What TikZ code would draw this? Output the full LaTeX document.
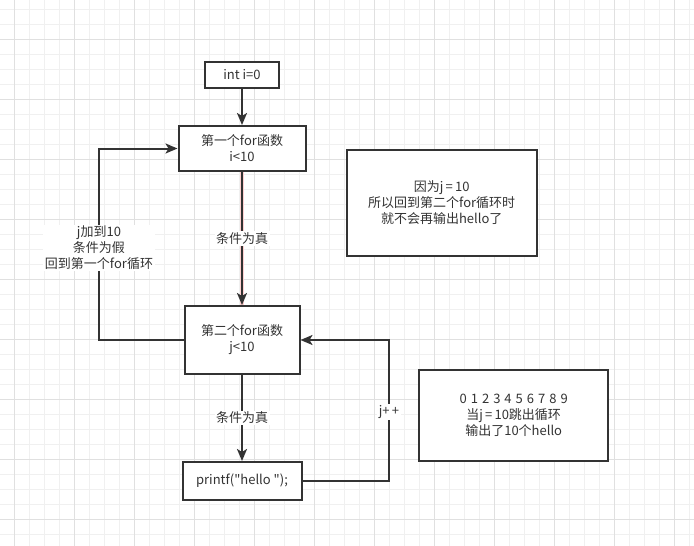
\documentclass[tikz,border=0pt]{standalone}
\usepackage{fontspec}
\newfontfamily\cjk{Noto Sans CJK SC}
\usepackage{tikz}
\usetikzlibrary{arrows.meta,positioning}
\definecolor{ink}{HTML}{333333}
\definecolor{gridminor}{HTML}{F0F0F0}
\definecolor{gridmajor}{HTML}{E0E0E0}

\tikzset{
  blk/.style={draw=ink, line width=2pt, fill=white, inner sep=0pt, align=center, text=ink},
  tag/.style={fill=white, inner sep=1.5pt, align=center, text=ink},
  flow/.style={draw=ink, line width=2pt, -{Stealth[length=12pt,width=10pt,inset=3pt]}},
}

\begin{document}
\begin{tikzpicture}[x=1pt,y=-1pt,every node/.style={font=\cjk\fontsize{13}{16}\selectfont}]
\useasboundingbox (0,0) rectangle (694,546);
\fill[white] (0,0) rectangle (694,546);

% grid
\foreach \i in {0,...,46} \draw[gridminor, line width=0.8pt] (-0.7+15*\i,0) -- (-0.7+15*\i,546);
\foreach \i in {0,...,36} \draw[gridminor, line width=0.8pt] (0,9.3+15*\i) -- (694,9.3+15*\i);
\foreach \i in {0,...,11} \draw[gridmajor, line width=0.8pt] (14.3+60*\i,0) -- (14.3+60*\i,546);
\foreach \i in {0,...,8} \draw[gridmajor, line width=0.8pt] (0,39.3+60*\i) -- (694,39.3+60*\i);

\node[blk, minimum width=74, minimum height=26] (init) at (242,75) {int i=0};
\node[blk, minimum width=127, minimum height=45] (first) at (242,148.5) {第一个for函数\\i<10};
\node[blk, minimum width=115, minimum height=68] (second) at (242,340) {第二个for函数\\j<10};
\node[blk, minimum width=119, minimum height=38] (printbox) at (242,481) {printf("hello ");};

\node[blk, minimum width=190, minimum height=106] (note1) at (441.7,202.5) {因为j\,=\,10\\所以回到第二个for循环时\\就不会再输出hello了};
\node[blk, minimum width=189, minimum height=91] (note2) at (513.7,415.5) {0\hspace{4pt}1\hspace{4pt}2\hspace{4pt}3\hspace{4pt}4\hspace{4pt}5\hspace{4pt}6\hspace{4pt}7\hspace{4pt}8\hspace{4pt}9\\当j\,=\,10跳出循环\\输出了10个hello};

\coordinate (falsept) at (99,248);
\coordinate (incpt) at (389,412);

\draw[flow] (init) -- (first);
\draw[red!18, line width=3.6pt] (first) -- (second);
\draw[flow] (first) -- node[tag] {条件为真} (second);
\draw[flow] (second) -- node[tag] {条件为真} (printbox);
\draw[flow] (second.west) -| (falsept) |- (first.west);
\node[tag] at (falsept) {j加到10\\条件为假\\回到第一个for循环};
\draw[flow] (printbox.east) -| (incpt) |- (second.east);
\node[tag] at (incpt) {j+\,+};
\end{tikzpicture}
\end{document}
